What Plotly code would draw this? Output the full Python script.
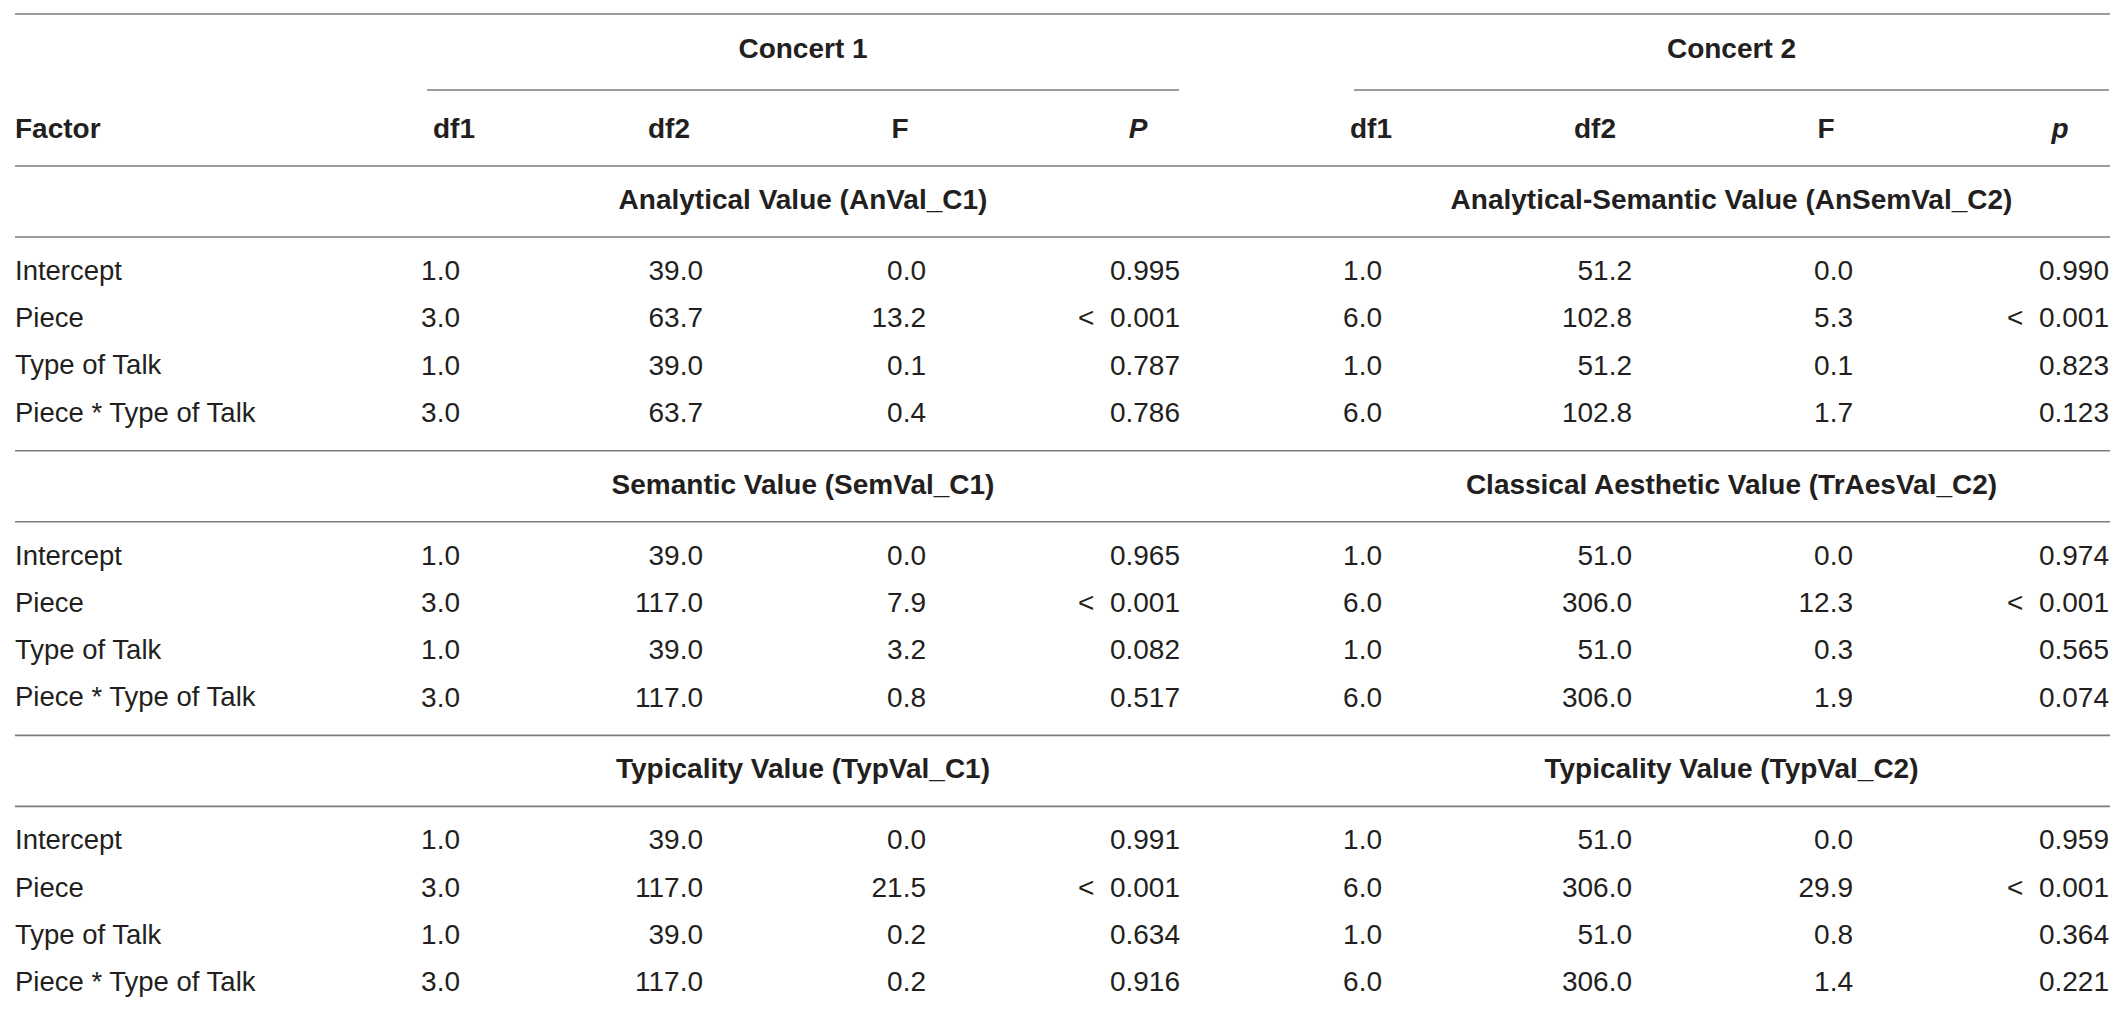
import plotly.graph_objects as go

# table content
factors = ["Intercept", "Piece", "Type of Talk", "Piece * Type of Talk"]
concerts = ["Concert 1", "Concert 2"]
col_names_c1 = ["df1", "df2", "F", "<i>P</i>"]
col_names_c2 = ["df1", "df2", "F", "<i>p</i>"]

sections_c1 = ["Analytical Value (AnVal_C1)", "Semantic Value (SemVal_C1)", "Typicality Value (TypVal_C1)"]
sections_c2 = ["Analytical-Semantic Value (AnSemVal_C2)", "Classical Aesthetic Value (TrAesVal_C2)",
               "Typicality Value (TypVal_C2)"]

c1_df1 = [[1.0, 3.0, 1.0, 3.0], [1.0, 3.0, 1.0, 3.0], [1.0, 3.0, 1.0, 3.0]]
c1_df2 = [[39.0, 63.7, 39.0, 63.7], [39.0, 117.0, 39.0, 117.0], [39.0, 117.0, 39.0, 117.0]]
c1_F = [[0.0, 13.2, 0.1, 0.4], [0.0, 7.9, 3.2, 0.8], [0.0, 21.5, 0.2, 0.2]]
c1_p = [["0.995", "< 0.001", "0.787", "0.786"],
        ["0.965", "< 0.001", "0.082", "0.517"],
        ["0.991", "< 0.001", "0.634", "0.916"]]

c2_df1 = [[1.0, 6.0, 1.0, 6.0], [1.0, 6.0, 1.0, 6.0], [1.0, 6.0, 1.0, 6.0]]
c2_df2 = [[51.2, 102.8, 51.2, 102.8], [51.0, 306.0, 51.0, 306.0], [51.0, 306.0, 51.0, 306.0]]
c2_F = [[0.0, 5.3, 0.1, 1.7], [0.0, 12.3, 0.3, 1.9], [0.0, 29.9, 0.8, 1.4]]
c2_p = [["0.990", "< 0.001", "0.823", "0.123"],
        ["0.974", "< 0.001", "0.565", "0.074"],
        ["0.959", "< 0.001", "0.364", "0.221"]]

# layout (pixel-like axis units)
W, H = 2118, 1017
LEFT, RIGHT = 7, 2104
FONT = "Liberation Sans, Arial, Helvetica, sans-serif"
FS = 28
TXT = "#231f20"
RULE = "#7d7d7d"

# per concert: group span, header centres, value right edges
groups = [
    {"span": (419, 1171), "head_x": [446, 661, 892, 1130], "val_x": [452, 695, 918, 1172]},
    {"span": (1346, 2101), "head_x": [1363, 1587, 1818, 2052], "val_x": [1374, 1624, 1845, 2101]},
]
Y_TOP = 6
Y_CONCERT = 43
Y_GROUP_RULE = 82
Y_HEAD = 123
SEC_TOP = 158
SEC_H = 284.7
ROW0 = 107
ROW_STEP = 47.3


def text_trace(xs, ys, texts, pos, bold=False, size=FS):
    if bold:
        texts = [f"<b>{t}</b>" for t in texts]
    return {
        "x": xs,
        "y": ys,
        "text": texts,
        "type": "scatter",
        "mode": "text",
        "textposition": pos,
        "textfont": {"family": FONT, "size": size, "color": TXT},
        "hoverinfo": "skip",
        "showlegend": False,
    }


def fmt(v):
    if isinstance(v, str):
        return v.replace("< ", "<\u00a0\u00a0")
    return f"{v:.1f}"


data = []
shapes = []


def hline(x0, x1, y):
    shapes.append({"type": "line", "xref": "x", "yref": "y", "x0": x0, "x1": x1, "y0": y, "y1": y,
                   "line": {"color": RULE, "width": 1.6}})


# header
hline(LEFT, RIGHT, Y_TOP)
data.append(text_trace([LEFT], [Y_HEAD], ["Factor"], "middle right", bold=True))
for g, name, cols in zip(groups, concerts, [col_names_c1, col_names_c2]):
    mid = (g["span"][0] + g["span"][1]) / 2
    data.append(text_trace([mid], [Y_CONCERT], [name], "middle center", bold=True))
    hline(g["span"][0], g["span"][1], Y_GROUP_RULE)
    data.append(text_trace(g["head_x"], [Y_HEAD] * 4, cols, "middle center", bold=True))
hline(LEFT, RIGHT, SEC_TOP)

# sections
concert_vals = [
    (sections_c1, [c1_df1, c1_df2, c1_F, c1_p]),
    (sections_c2, [c2_df1, c2_df2, c2_F, c2_p]),
]
for s in range(3):
    top = SEC_TOP + s * SEC_H
    row_y = [top + ROW0 + i * ROW_STEP for i in range(len(factors))]
    data.append(text_trace([LEFT] * len(factors), row_y, factors, "middle right", size=27.5))
    for g, (titles, cols) in zip(groups, concert_vals):
        mid = (g["span"][0] + g["span"][1]) / 2
        data.append(text_trace([mid], [top + 36], [titles[s]], "middle center", bold=True))
        for x, col in zip(g["val_x"], cols):
            data.append(text_trace([x] * len(factors), row_y, [fmt(v) for v in col[s]], "middle left"))
    hline(LEFT, RIGHT, top + 71)
    hline(LEFT, RIGHT, top + SEC_H)

layout = go.Layout(
    width=W,
    height=H,
    margin={"l": 0, "r": 0, "t": 0, "b": 0},
    paper_bgcolor="white",
    plot_bgcolor="white",
    xaxis={"range": [0, W], "visible": False, "fixedrange": True},
    yaxis={"range": [H, 0], "visible": False, "fixedrange": True},
    shapes=shapes,
)
fig = go.Figure(data=data, layout=layout)
fig.write_html("out.html", config={"displayModeBar": False})
